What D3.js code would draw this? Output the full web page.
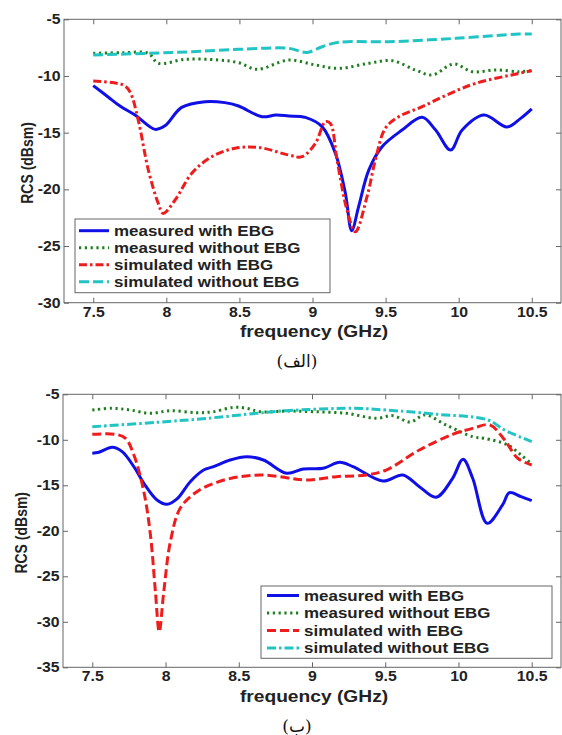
<!DOCTYPE html>
<html><head><meta charset="utf-8">
<script src="https://cdn.jsdelivr.net/npm/d3@7"></script>
<style>body{margin:0;background:#fff}svg{display:block}</style>
</head><body>
<svg id="c" width="562" height="735"></svg>
<script>
// ---------- DATA ----------
const seriesNames = ["measured with EBG","measured without EBG","simulated with EBG","simulated without EBG"];
const xTicks = [7.5, 8, 8.5, 9, 9.5, 10, 10.5];
const yTicksTop = [-30, -25, -20, -15, -10, -5];
const yTicksBottom = [-35, -30, -25, -20, -15, -10, -5];
const captions = ["(الف)", "(ب)"];

// Chart (a)
const aMeasWithF = [7.5,7.6,7.683,7.786,7.923,7.99,8.105,8.265,8.4,8.494,8.654,8.75,8.837,8.951,9.065,9.157,9.225,9.268,9.316,9.385,9.476,9.613,9.75,9.842,9.945,10.024,10.173,10.33,10.424,10.5];
const aMeasWithV = [-10.85,-11.83,-12.65,-13.44,-14.71,-14.4,-12.77,-12.27,-12.35,-12.65,-13.59,-13.45,-13.53,-13.65,-14.47,-16.83,-20.35,-23.65,-21.5,-18.3,-16.24,-14.77,-13.65,-14.77,-16.53,-14.77,-13.45,-14.5,-13.74,-12.9];
const aMeasWithoutF = [7.5,7.7,7.877,7.945,8.128,8.357,8.494,8.62,8.837,9.02,9.18,9.385,9.545,9.704,9.82,9.967,10.093,10.253,10.413,10.5];
const aMeasWithoutV = [-8.0,-7.95,-8.0,-8.88,-8.53,-8.59,-8.83,-9.41,-8.6,-9.03,-9.33,-8.88,-8.65,-9.47,-9.91,-8.94,-9.62,-9.47,-9.62,-9.53];
const aSimWithF = [7.5,7.706,7.751,7.808,7.877,7.945,7.979,8.06,8.174,8.311,8.471,8.631,8.837,8.928,9.02,9.088,9.122,9.168,9.236,9.293,9.373,9.43,9.498,9.59,9.75,9.933,10.116,10.413,10.5];
const aSimWithV = [-10.44,-10.8,-11.39,-13.89,-18.3,-21.24,-22.12,-20.94,-18.59,-17.12,-16.38,-16.3,-16.97,-17.12,-15.94,-14.03,-14.18,-17.42,-21.83,-23.74,-20.65,-17.42,-14.62,-13.59,-12.71,-11.59,-10.65,-9.77,-9.53];
const aSimWithoutF = [7.5,7.877,8.174,8.494,8.837,8.962,9.065,9.18,9.522,9.979,10.413,10.5];
const aSimWithoutV = [-8.15,-8.0,-7.86,-7.65,-7.56,-7.92,-7.42,-7.03,-6.98,-6.68,-6.3,-6.3];

// Chart (b)
const bMeasWithF = [7.5,7.545,7.636,7.704,7.784,7.852,7.942,8.01,8.078,8.169,8.26,8.328,8.441,8.554,8.668,8.827,8.94,9.076,9.189,9.28,9.484,9.62,9.733,9.847,9.96,10.031,10.097,10.196,10.301,10.348,10.427,10.5];
const bMeasWithV = [-11.48,-11.37,-10.82,-11.3,-12.96,-14.78,-16.62,-17.09,-16.5,-14.6,-13.32,-12.95,-12.22,-11.86,-12.22,-13.68,-13.21,-13.13,-12.47,-12.95,-14.53,-13.87,-15.15,-16.32,-14.23,-12.14,-14.23,-19.18,-17.16,-15.81,-16.25,-16.69];
const bMeasWithoutF = [7.5,7.636,7.76,7.897,8.033,8.214,8.328,8.464,8.554,8.645,8.827,9.008,9.235,9.439,9.552,9.67,9.77,9.915,10.097,10.178,10.337,10.427,10.5];
const bMeasWithoutV = [-6.73,-6.54,-6.73,-7.09,-6.8,-7.02,-6.91,-6.43,-6.54,-6.91,-6.84,-6.91,-7.09,-7.64,-7.35,-8.05,-7.27,-8.37,-9.66,-9.84,-10.57,-11.67,-12.66];
const bSimWithF = [7.5,7.659,7.727,7.784,7.852,7.897,7.931,7.957,7.988,8.033,8.1,8.214,8.35,8.509,8.668,8.827,8.963,9.167,9.371,9.507,9.733,9.96,10.097,10.215,10.314,10.405,10.5];
const bSimWithV = [-9.4,-9.4,-9.84,-11.67,-15.7,-20.46,-26.7,-31.09,-26.7,-21.2,-17.53,-15.7,-14.67,-14.05,-13.87,-14.16,-14.42,-14.05,-13.87,-13.32,-11.12,-9.4,-8.74,-8.37,-10.0,-12.03,-12.77];
const bSimWithoutF = [7.5,7.942,8.282,8.622,8.827,9.28,9.507,9.854,10.2,10.314,10.5];
const bSimWithoutV = [-8.56,-8.08,-7.64,-7.09,-6.8,-6.54,-6.73,-7.2,-7.82,-8.92,-10.2];

// ---------- DRAW ----------
const svg = d3.select("#c");
const SX = 1.13; // horizontal stretch of the original figure's text
const colors = ["#1010e6", "#1e7d1e", "#ee1c1c", "#22c3c3"];

function zip(f, v){ return f.map((d,i)=>[d, v[i]]); }

function chart(cfg){
  const x = d3.scaleLinear().domain([7.3, 10.7]).range([cfg.left, cfg.right]);
  const y = d3.scaleLinear().domain(cfg.yDomain).range([cfg.bottom, cfg.top]);
  const g = svg.append("g");

  // frame
  g.append("rect").attr("x", cfg.left).attr("y", cfg.top)
    .attr("width", cfg.right - cfg.left).attr("height", cfg.bottom - cfg.top)
    .attr("fill", "none").attr("stroke", "#666").attr("stroke-width", 1);

  const fmt = d => String(d);
  const ax = [
    g.append("g").attr("transform", `translate(0,${cfg.bottom})`)
      .call(d3.axisBottom(x).tickValues(xTicks).tickFormat(fmt).tickSizeInner(-5).tickSizeOuter(0).tickPadding(4)),
    g.append("g").attr("transform", `translate(0,${cfg.top})`)
      .call(d3.axisTop(x).tickValues(xTicks).tickFormat("").tickSizeInner(-5).tickSizeOuter(0)),
    g.append("g").attr("transform", `translate(${cfg.left},0)`)
      .call(d3.axisLeft(y).tickValues(cfg.yTicks).tickFormat(fmt).tickSizeInner(-5).tickSizeOuter(0).tickPadding(3)),
    g.append("g").attr("transform", `translate(${cfg.right},0)`)
      .call(d3.axisRight(y).tickValues(cfg.yTicks).tickFormat("").tickSizeInner(-5).tickSizeOuter(0))
  ];
  ax.forEach(a => {
    a.select(".domain").remove();
    a.selectAll(".tick line").attr("stroke", "#666");
    a.selectAll(".tick text").attr("font-family", "Liberation Sans, Arial, sans-serif")
      .attr("font-weight", "bold").attr("font-size", 14).attr("fill", "#222")
      .attr("transform", `scale(${SX},1)`);
  });

  // lines
  const line = d3.line().x(d => x(d[0])).y(d => y(d[1])).curve(d3.curveCatmullRom.alpha(0.5));
  const plot = g.append("g");
  cfg.series.forEach((s, i) => {
    plot.append("path").datum(s.data).attr("d", line)
      .attr("fill", "none").attr("stroke", colors[i]).attr("stroke-width", s.w)
      .attr("stroke-dasharray", s.dash).attr("stroke-linejoin", "round");
  });

  // axis titles
  g.append("text").attr("transform", `translate(${cfg.ytX},${(cfg.top+cfg.bottom)/2 + 2}) scale(${SX},1) rotate(-90)`)
    .attr("text-anchor", "middle").attr("dy", "0.35em")
    .attr("font-family", "Liberation Sans, Arial, sans-serif").attr("font-weight", "bold")
    .attr("font-size", 14).attr("fill", "#222").text("RCS (dBsm)");
  g.append("text").attr("transform", `translate(314,${cfg.xtY}) scale(${SX},1)`)
    .attr("text-anchor", "middle")
    .attr("font-family", "Liberation Sans, Arial, sans-serif").attr("font-weight", "bold")
    .attr("font-size", 17).attr("fill", "#222").text("frequency (GHz)");
  g.append("text").attr("transform", `translate(297,${cfg.capY})`)
    .attr("text-anchor", "middle")
    .attr("font-family", "DejaVu Serif, DejaVu Sans, serif")
    .attr("font-size", 17).attr("fill", "#111").text(cfg.caption);

  // legend
  const L = cfg.legend;
  const lg = g.append("g");
  lg.append("rect").attr("x", L.x0).attr("y", L.y0).attr("width", L.x1 - L.x0).attr("height", L.y1 - L.y0)
    .attr("fill", "#fff").attr("stroke", "#666").attr("stroke-width", 1);
  seriesNames.forEach((name, i) => {
    const ry = L.rows[i];
    lg.append("line").attr("x1", L.lx0).attr("x2", L.lx1).attr("y1", ry).attr("y2", ry)
      .attr("stroke", colors[i]).attr("stroke-width", cfg.series[i].w)
      .attr("stroke-dasharray", cfg.series[i].dash);
    lg.append("text").attr("transform", `translate(${L.tx},${ry + 5.3}) scale(${SX},1)`)
      .attr("font-family", "Liberation Sans, Arial, sans-serif").attr("font-weight", "bold")
      .attr("font-size", 15).attr("fill", "#222").text(name);
  });
}

chart({
  left: 64, right: 561, top: 19.3, bottom: 302.7, yDomain: [-30, -5], yTicks: yTicksTop,
  ytX: 27, xtY: 336.5, capY: 367, caption: captions[0],
  series: [
    {data: zip(aMeasWithF, aMeasWithV), w: 3, dash: null},
    {data: zip(aMeasWithoutF, aMeasWithoutV), w: 3, dash: "2.2,3.6"},
    {data: zip(aSimWithF, aSimWithV), w: 3, dash: "8,3,2.5,3"},
    {data: zip(aSimWithoutF, aSimWithoutV), w: 3, dash: "10,4"}
  ],
  legend: {x0: 75, x1: 330, y0: 219, y1: 292.7, rows: [230.7, 247.7, 264.7, 281.7], lx0: 79, lx1: 109, tx: 114}
});

chart({
  left: 63, right: 561, top: 394.3, bottom: 667.3, yDomain: [-35, -5], yTicks: yTicksBottom,
  ytX: 21, xtY: 702, capY: 732, caption: captions[1],
  series: [
    {data: zip(bMeasWithF, bMeasWithV), w: 3, dash: null},
    {data: zip(bMeasWithoutF, bMeasWithoutV), w: 3, dash: "2.2,3.6"},
    {data: zip(bSimWithF, bSimWithV), w: 3, dash: "9,4"},
    {data: zip(bSimWithoutF, bSimWithoutV), w: 3, dash: "9,3,2.5,3"}
  ],
  legend: {x0: 261, x1: 552, y0: 586, y1: 658.3, rows: [595.5, 613, 630.5, 648], lx0: 267, lx1: 299, tx: 304}
});
</script>
</body></html>
